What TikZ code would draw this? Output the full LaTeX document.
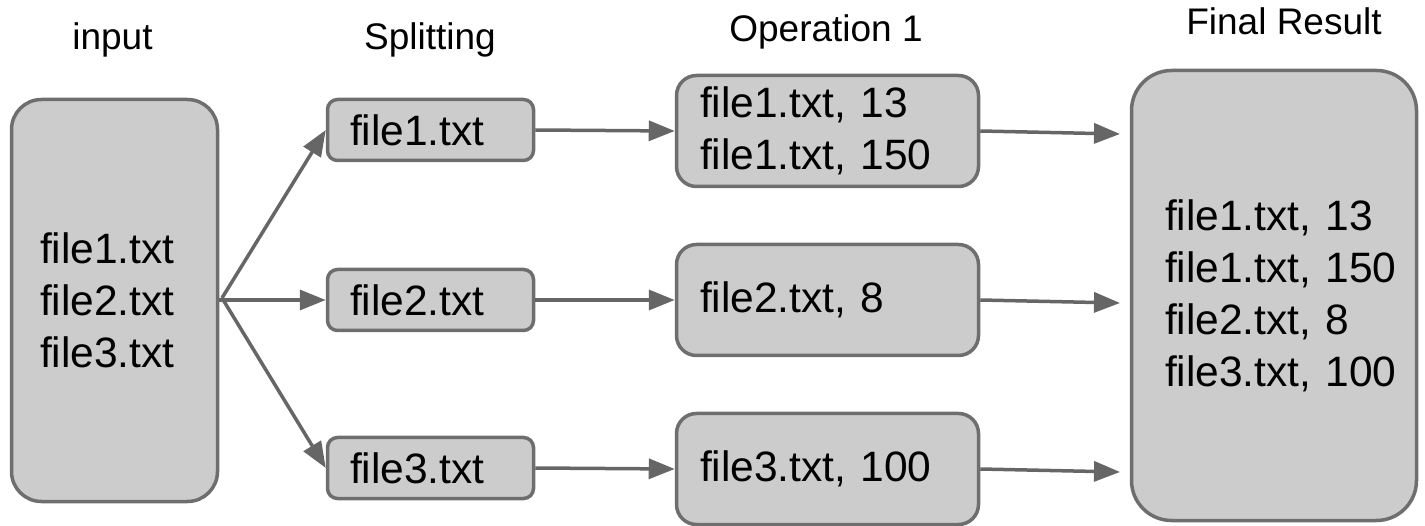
\documentclass[tikz,border=0pt]{standalone}
\usepackage{fontspec}
\setmainfont{Liberation Sans}
\usetikzlibrary{arrows.meta}
\definecolor{boxfill}{HTML}{CCCCCC}
\definecolor{boxline}{HTML}{6E6E6E}
\definecolor{arrowc}{HTML}{666666}
\begin{document}
\begin{tikzpicture}[x=1pt,y=-1pt,
  box/.style={draw=boxline, fill=boxfill, line width=3.5pt, rectangle, align=left,
    font=\fontsize{42.5}{52}\selectfont, inner ysep=0pt},
  inbox/.style={box, minimum width=206pt, minimum height=402pt, text width=149pt, inner xsep=28.5pt, rounded corners=30pt},
  splitbox/.style={box, minimum width=206pt, minimum height=61pt, text width=161pt, inner xsep=22.5pt, rounded corners=10pt},
  opbox/.style={box, minimum width=302pt, minimum height=111pt, text width=255pt, inner xsep=23.5pt, rounded corners=20pt},
  finbox/.style={box, minimum width=285pt, minimum height=450pt, text width=218pt, inner xsep=33.5pt, rounded corners=40pt},
  conn/.style={draw=arrowc, line width=3.5pt, -{Triangle[length=26pt,width=20pt]}},
  lbl/.style={font=\fontsize{37}{44}\selectfont, anchor=base, inner sep=0pt}]
\useasboundingbox (0,0) rectangle (1425,526);

% column titles
\node[lbl] (tin) at (112.5,50) {input};
\node[lbl] (tsp) at (430,50) {Splitting};
\node[lbl] (top) at (826,42) {Operation 1};
\node[lbl] (tfin) at (1284,35) {Final Result};

% boxes
\node[inbox] (in) at (114.5,300.5) {file1.txt\\file2.txt\\file3.txt};

\node[splitbox] (s1) at (430.5,130) {file1.txt};
\node[splitbox] (s2) at (430.5,300) {file2.txt};
\node[splitbox] (s3) at (430.5,468) {file3.txt};

\node[opbox] (o1) at (827.5,131) {file1.txt,~13\\file1.txt,~150};
\node[opbox] (o2) at (827.5,300) {file2.txt,~8};
\node[opbox] (o3) at (827.5,469) {file3.txt,~100};

\node[finbox] (fin) at (1274,295.5) {file1.txt,~13\\file1.txt,~150\\file2.txt,~8\\file3.txt,~100};

% connectors
\coordinate (src) at (222,298);
\draw[conn] (src) -- (s1.west);
\draw[conn] (in.east |- s2.west) -- (s2.west);
\draw[conn] (src) -- (s3.west);

\draw[conn] (s1.east) -- (o1.west);
\draw[conn] (s2.east) -- (o2.west);
\draw[conn] (s3.east) -- (o3.west);

\coordinate (f1) at (1120,134);
\coordinate (f2) at (1120,303);
\coordinate (f3) at (1120,472);
\draw[conn] (o1.east) -- (f1);
\draw[conn] (o2.east) -- (f2);
\draw[conn] (o3.east) -- (f3);
\end{tikzpicture}
\end{document}
